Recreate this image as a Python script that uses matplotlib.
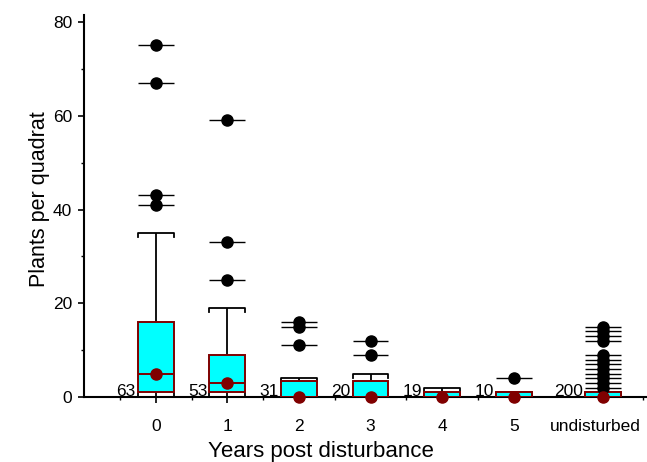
import matplotlib
matplotlib.use('Agg')
import matplotlib.pyplot as plt
from matplotlib.transforms import ScaledTranslation

plt.rcParams['font.family'] = ['Liberation Sans', 'DejaVu Sans']

# box summaries (plants per quadrat)
groups = ['0', '1', '2', '3', '4', '5', 'undisturbed']
n_counts = [63, 53, 31, 20, 19, 10, 200]
q1 = [1, 1, 0, 0, 0, 0, 0]
medians = [5, 3, 0, 0, 0, 0, 0]
q3 = [16, 9, 3.5, 3.5, 1, 1, 1]
whisk_lo = [0, 0, 0, 0, 0, 0, 0]
whisk_hi = [35, 19, 4, 5, 2, 1, 1]
outliers = [
    [75, 67, 43, 41],
    [59, 33, 25],
    [16, 15, 11],
    [12, 9],
    [],
    [4],
    [15, 14, 13, 12, 9, 8, 7, 6, 5, 4, 3, 2],
]

x_pos = [0, 1, 2, 3, 4, 5, 6.25]
w = 0.5
d = 0.85  # little end ticks on the caps
maroon = '#800000'

fig = plt.figure(figsize=(6.47, 4.62), dpi=100)
ax = fig.add_axes([0.13, 0.1407, 0.87, 0.8268])

# boxes
heights = [b - a for a, b in zip(q1, q3)]
ax.bar(x_pos, heights, bottom=q1, width=w, color='#00FFFF',
       edgecolor=maroon, linewidth=1.4, zorder=3)
ax.hlines(medians, [x - w / 2 for x in x_pos], [x + w / 2 for x in x_pos],
          colors=maroon, linewidth=1.4, zorder=4)

# whiskers + caps
for x, lo, a, b, hi in zip(x_pos, whisk_lo, q1, q3, whisk_hi):
    ax.vlines(x, b, hi, colors='black', linewidth=1.3, zorder=2)
    ax.vlines(x, lo, a, colors='black', linewidth=1.3, zorder=2)
    ax.plot([x - w / 2, x - w / 2, x + w / 2, x + w / 2], [hi - d, hi, hi, hi - d],
            color='black', linewidth=1.3, zorder=2)
    ax.plot([x - w / 2, x - w / 2, x + w / 2, x + w / 2], [lo + d, lo, lo, lo + d],
            color='black', linewidth=1.3, zorder=2)

# outliers: dot with a horizontal line through it
for x, pts in zip(x_pos, outliers):
    if not pts:
        continue
    ax.hlines(pts, x - w / 2, x + w / 2, colors='black', linewidth=1.0, zorder=4)
    ax.plot([x] * len(pts), pts, 'o', color='black', markersize=8, zorder=5)

# medians as dots
ax.plot(x_pos, medians, 'o', color=maroon, markersize=8, zorder=6, clip_on=False)

# sample sizes
for x, n in zip(x_pos, n_counts):
    ax.text(x - w / 2 - 0.03, 0.3, str(n), ha='right', va='baseline', fontsize=12.5)

ax.set_xlim(-1, 6.86)
ax.set_ylim(0, 81.5)
ax.set_xticks(x_pos)
ax.set_xticklabels(groups)
ax.set_xticks([-0.5, 0.5, 1.5, 2.5, 3.5, 4.5, 6.8], minor=True)
ax.set_yticks([0, 20, 40, 60, 80])
ax.set_yticks([10, 30, 50, 70], minor=True)

ax.tick_params(axis='both', which='major', labelsize=12.5, length=4.5, width=1.2)
ax.tick_params(axis='both', which='minor', length=2.5, width=1.0)
ax.tick_params(axis='x', which='major', pad=11)
ax.tick_params(axis='y', which='major', pad=4)

# last label is nudged left so it stays inside the figure
last = ax.get_xticklabels()[-1]
last.set_transform(last.get_transform() + ScaledTranslation(-8 / 100, 0, fig.dpi_scale_trans))

for s in ['top', 'right']:
    ax.spines[s].set_visible(False)
for s in ['left', 'bottom']:
    ax.spines[s].set_linewidth(1.5)

ax.set_xlabel('Years post disturbance', fontsize=16)
ax.set_ylabel('Plants per quadrat', fontsize=15.5)
ax.xaxis.set_label_coords(0.42, -0.115)
ax.yaxis.set_label_coords(-0.06, 0.518)

fig.savefig('out.png', dpi=100)
